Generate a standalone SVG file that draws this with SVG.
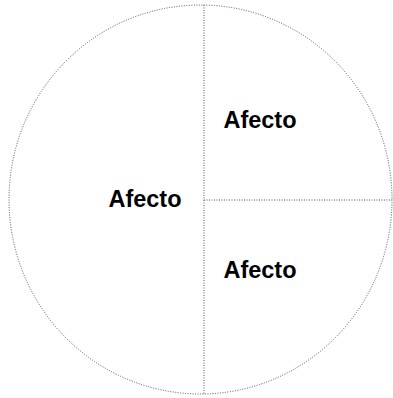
<svg xmlns="http://www.w3.org/2000/svg" width="393" height="398" viewBox="0 0 393 398">
<style>
.ln{fill:none;stroke:#555;stroke-width:1;stroke-dasharray:1 1.5}
.lb{font-family:"Liberation Sans",Arial,sans-serif;font-weight:bold;font-size:23.5px;fill:#000;text-anchor:middle}
</style>
<rect width="393" height="398" fill="#fff"/>
<g id="connectors">
<ellipse class="ln" cx="200.5" cy="199.5" rx="191.5" ry="194.5" stroke="#888"/>
<line class="ln" x1="204" y1="5" x2="204" y2="394"/>
<line class="ln" x1="204" y1="200" x2="392" y2="200"/>
</g>
<g id="left"><text class="lb" x="145" y="207">Afecto</text></g>
<g id="upper-right"><text class="lb" x="260" y="128">Afecto</text></g>
<g id="lower-right"><text class="lb" x="260" y="278">Afecto</text></g>
</svg>
